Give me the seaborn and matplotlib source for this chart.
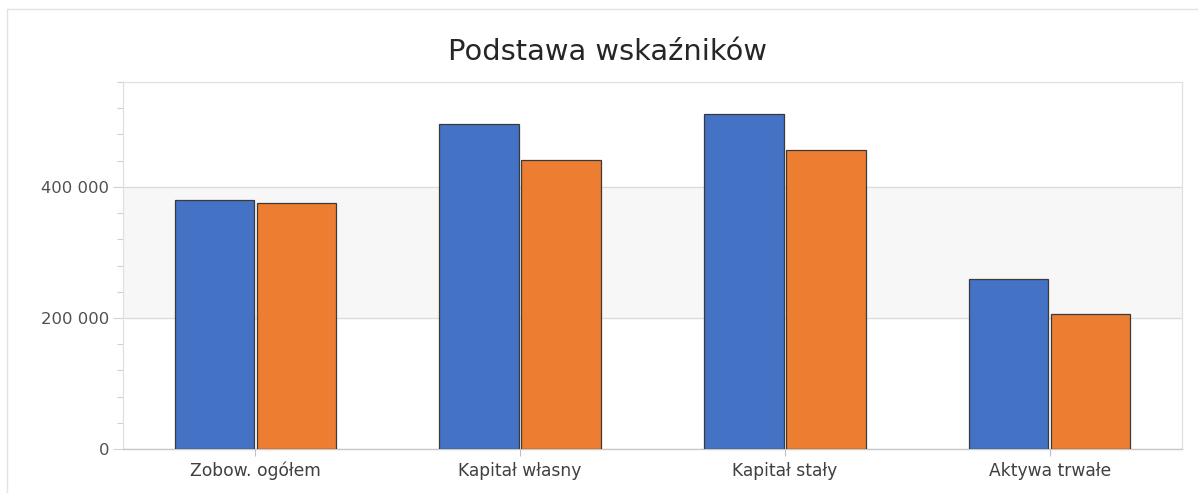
import pandas as pd
import matplotlib.pyplot as plt
import matplotlib.ticker as mticker
from matplotlib.lines import Line2D
import seaborn as sns

# Data
categories = ['Zobow. ogółem', 'Kapitał własny', 'Kapitał stały', 'Aktywa trwałe']
series_names = ['Okres bieżący', 'Okres poprzedni']
values_current = [380000, 496000, 511000, 259000]
values_previous = [376000, 441000, 457000, 206000]

colors = ['#4472C4', '#ED7D31']

df = pd.DataFrame({
    'kategoria': categories * 2,
    'seria': [series_names[0]] * 4 + [series_names[1]] * 4,
    'wartosc': values_current + values_previous,
})

sns.set_style('white')
plt.rcParams['font.family'] = ['DejaVu Sans']

fig = plt.figure(figsize=(11.98, 4.93), dpi=100)
ax = fig.add_axes([123 / 1198, 1 - 449 / 493, (1182 - 123) / 1198, (449 - 82) / 493])

# light band between 200 000 and 400 000
ax.axhspan(200000, 400000, color='#f7f7f7', zorder=0)

sns.barplot(data=df, x='kategoria', y='wartosc', hue='seria', palette=colors,
            saturation=1, width=0.62, gap=0.03, edgecolor='#3a3a3a', linewidth=0.9,
            legend=False, ax=ax, zorder=3)

ax.set_xlim(-0.5, 3.5)
ax.set_ylim(0, 560000)
ax.set_xlabel('')
ax.set_ylabel('')

ax.yaxis.set_major_locator(mticker.MultipleLocator(200000))
ax.yaxis.set_minor_locator(mticker.MultipleLocator(40000))
ax.yaxis.set_major_formatter(mticker.FuncFormatter(lambda v, p: f'{int(v):,}'.replace(',', ' ')))
ax.yaxis.grid(True, which='major', color='#dcdcdc', linewidth=0.9)
ax.set_axisbelow(True)

ax.tick_params(axis='y', which='major', left=True, length=7, width=0.8, color='#d0d0d0',
               labelsize=11.8, labelcolor='#505050', pad=3)
ax.tick_params(axis='y', which='minor', left=True, length=4, width=0.8, color='#d0d0d0')
ax.tick_params(axis='x', bottom=True, length=5, width=0.8, color='#bfbfbf',
               labelsize=12.3, labelcolor='#404040', pad=4)

for side in ['left', 'top', 'right']:
    ax.spines[side].set_color('#e0e0e0')
    ax.spines[side].set_linewidth(0.9)
ax.spines['bottom'].set_color('#c8c8c8')
ax.spines['bottom'].set_linewidth(1.0)

fig.suptitle('Podstawa wskaźników', x=607 / 1198, y=1 - 52 / 493, va='center',
             fontsize=20.8, color='#262626')

# outer frame of the chart object
fig.add_artist(Line2D([7 / 1198, 1.0], [1 - 9 / 493, 1 - 9 / 493], color='#e3e3e3', linewidth=1.0))
fig.add_artist(Line2D([7 / 1198, 7 / 1198], [0, 1 - 9 / 493], color='#e3e3e3', linewidth=1.0))

fig.savefig('out.png', dpi=100)
